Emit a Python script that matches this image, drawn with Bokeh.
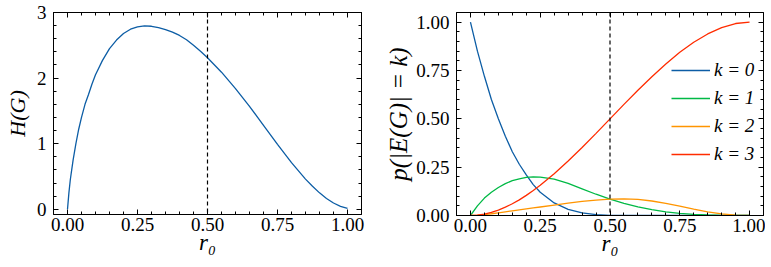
from bokeh.plotting import figure
from bokeh.layouts import row
from bokeh.models import (Range1d, FixedTicker, LinearAxis, CustomJSTickFormatter,
                          Span, Legend, LegendItem)
from bokeh.embed import file_html
from bokeh.resources import INLINE

# ---------------- data ----------------
r_h = [0, 0.005, 0.01, 0.015, 0.02, 0.03, 0.04, 0.05, 0.0625, 0.075, 0.0875, 0.1,
       0.125, 0.15, 0.175, 0.2, 0.225, 0.25, 0.275, 0.3, 0.325, 0.35, 0.375, 0.4,
       0.425, 0.45, 0.475, 0.5, 0.55, 0.6, 0.65, 0.7, 0.75, 0.8, 0.85, 0.875, 0.9,
       0.925, 0.95, 0.975, 1.0]
H = [0, 0.25, 0.45, 0.6, 0.75, 1.0, 1.22, 1.4, 1.6, 1.75, 1.91, 2.05,
     2.27, 2.45, 2.58, 2.68, 2.745, 2.78, 2.795, 2.79, 2.77, 2.74, 2.7, 2.65,
     2.585, 2.5, 2.41, 2.31, 2.09, 1.84, 1.57, 1.28, 0.99, 0.71, 0.46, 0.35, 0.25,
     0.165, 0.095, 0.045, 0.015]

r_p = [0, 0.025, 0.05, 0.075, 0.1, 0.125, 0.15, 0.175, 0.2, 0.225, 0.25, 0.3, 0.35,
       0.4, 0.45, 0.5, 0.55, 0.6, 0.65, 0.7, 0.75, 0.8, 0.85, 0.9, 0.95, 1.0]
p_k0 = [1.0, 0.85, 0.72, 0.60, 0.50, 0.41, 0.33, 0.265, 0.21, 0.16, 0.12, 0.065, 0.032,
        0.014, 0.005, 0.001, 0, 0, 0, 0, 0, 0, 0, 0, 0, 0]
p_k1 = [0, 0.05, 0.09, 0.12, 0.145, 0.165, 0.18, 0.19, 0.197, 0.2, 0.199, 0.188, 0.166,
        0.138, 0.11, 0.085, 0.063, 0.045, 0.03, 0.019, 0.011, 0.006, 0.003, 0.001, 0.0003, 0]
p_k2 = [0, 0.002, 0.005, 0.009, 0.014, 0.019, 0.024, 0.029, 0.034, 0.039, 0.044, 0.054,
        0.064, 0.073, 0.08, 0.085, 0.086, 0.083, 0.075, 0.063, 0.048, 0.033, 0.019,
        0.008, 0.002, 0]
p_k3 = [0, 0.002, 0.007, 0.016, 0.028, 0.043, 0.061, 0.081, 0.104, 0.129, 0.156, 0.216,
        0.282, 0.352, 0.425, 0.5, 0.575, 0.648, 0.718, 0.784, 0.844, 0.896, 0.939,
        0.972, 0.993, 1.0]
series_p = [p_k0, p_k1, p_k2, p_k3]
series_labels = ["k = 0", "k = 1", "k = 2", "k = 3"]
colors = ["#0C5DA5", "#00B945", "#FF9500", "#FF2C00"]

x_ticks = [0, 0.25, 0.5, 0.75, 1.0]
x_tick_labels = ["0.00", "0.25", "0.50", "0.75", "1.00"]
h_ticks = [0, 1, 2, 3]
h_tick_labels = ["0", "1", "2", "3"]
p_ticks = [0, 0.25, 0.5, 0.75, 1.0]
p_tick_labels = ["0.00", "0.25", "0.50", "0.75", "1.00"]
r_marker = 0.5

FONT = "Liberation Serif"
TICK_FS = "19px"
LEG_FS = "19px"


def style_axis(ax, ticks, labels, minor, show_labels=True):
    ax.ticker = FixedTicker(ticks=ticks, minor_ticks=minor)
    ax.major_tick_in = 5
    ax.major_tick_out = 0
    ax.minor_tick_in = 3
    ax.minor_tick_out = 0
    ax.axis_line_color = "black"
    ax.major_tick_line_color = "black"
    ax.minor_tick_line_color = "black"
    ax.major_label_text_font = FONT
    ax.major_label_text_font_size = TICK_FS
    ax.major_label_text_color = "black"
    ax.axis_label_text_font = FONT
    ax.axis_label_text_font_style = "italic"
    ax.axis_label_text_color = "black"
    if show_labels:
        ax.major_label_overrides = {t: l for t, l in zip(ticks, labels)}
        ax.major_label_standoff = 7
    else:
        ax.formatter = CustomJSTickFormatter(code="return ''")
        ax.major_label_standoff = 0
        ax.major_label_text_font_size = "0px"


def make_fig(frame_w, frame_h, ylim, yticks, ylabels, yminor, ylabel, ylabel_fs,
             ylabel_standoff, left_border, right_border, top_border):
    p = figure(frame_width=frame_w, frame_height=frame_h, output_backend="svg",
               toolbar_location=None,
               x_range=Range1d(-0.05, 1.05), y_range=Range1d(*ylim),
               min_border_left=left_border, min_border_right=right_border,
               min_border_top=top_border, min_border_bottom=52)
    p.grid.visible = False
    p.outline_line_color = "black"
    p.background_fill_color = "white"
    p.border_fill_color = "white"
    xminor = [round(i * 0.05, 2) for i in range(0, 21)]
    style_axis(p.xaxis[0], x_ticks, x_tick_labels, xminor)
    style_axis(p.yaxis[0], yticks, ylabels, yminor)
    p.xaxis[0].axis_label = "r₀"
    p.xaxis[0].axis_label_text_font_size = "23px"
    p.xaxis[0].major_label_standoff = 3
    p.xaxis[0].axis_label_standoff = -4
    p.yaxis[0].axis_label = ylabel
    p.yaxis[0].axis_label_text_font_size = ylabel_fs
    p.yaxis[0].axis_label_standoff = ylabel_standoff
    top = LinearAxis()
    style_axis(top, x_ticks, x_tick_labels, xminor, show_labels=False)
    p.add_layout(top, "above")
    right = LinearAxis()
    style_axis(right, yticks, ylabels, yminor, show_labels=False)
    p.add_layout(right, "right")
    p.add_layout(Span(location=r_marker, dimension="height", line_color="black",
                      line_dash="4 3", line_width=1.2))
    return p


h_minor = [round(i * 0.2, 2) for i in range(0, 16)]
p1 = make_fig(308, 202, (-0.08, 3.0), h_ticks, h_tick_labels, h_minor, "H(G)",
              "22px", 4, 53, 15, 12)
p1.line(r_h, H, line_color=colors[0], line_width=1.3)

p_minor = [round(i * 0.05, 2) for i in range(0, 21)]
p2 = make_fig(307, 203, (0.0, 1.05), p_ticks, p_tick_labels, p_minor, "p(|E(G)| = k)",
              "25px", 1, 80, 2, 11)
items = []
for vals, lab, col in zip(series_p, series_labels, colors):
    r = p2.line(r_p, vals, line_color=col, line_width=1.3)
    items.append(LegendItem(label=lab, renderers=[r]))
leg = Legend(items=items, location=(215, 50), border_line_color=None,
             background_fill_alpha=0, padding=0, margin=0, spacing=6,
             glyph_width=39, glyph_height=20, label_height=20, label_standoff=4,
             label_text_font=FONT, label_text_font_size=LEG_FS,
             label_text_font_style="italic", label_text_color="black")
p2.add_layout(leg)

layout = row(p1, p2)
open("out.html", "w").write(file_html(layout, INLINE))
